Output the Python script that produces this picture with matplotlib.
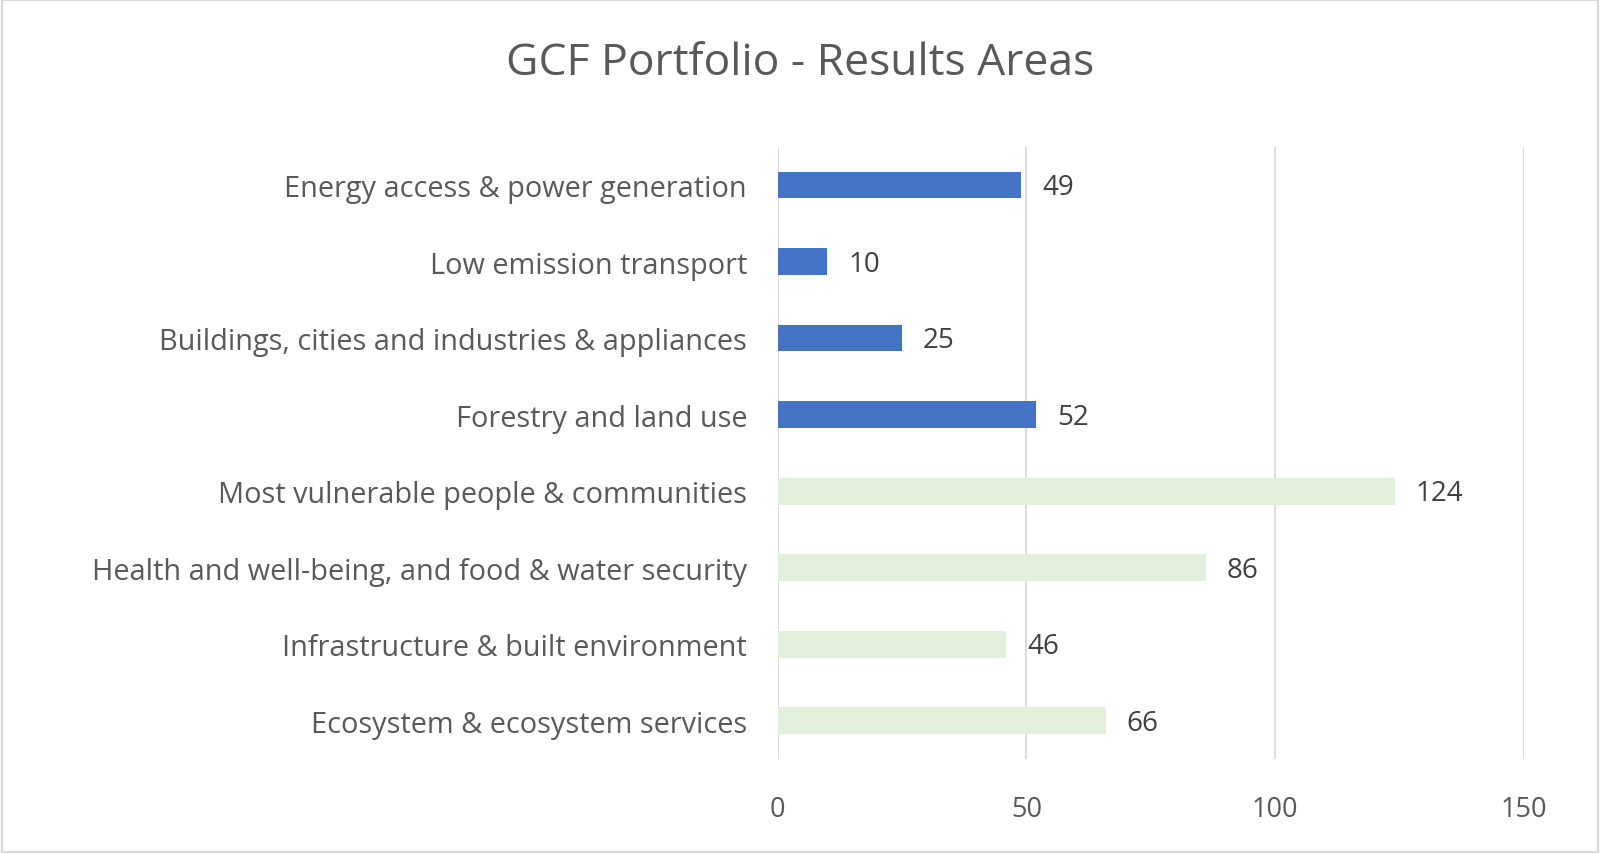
import matplotlib
matplotlib.use("Agg")
import matplotlib.pyplot as plt
from matplotlib.patches import Rectangle

categories = [
    "Energy access & power generation",
    "Low emission transport",
    "Buildings, cities and industries & appliances",
    "Forestry and land use",
    "Most vulnerable people & communities",
    "Health and well-being, and food & water security",
    "Infrastructure & built environment",
    "Ecosystem & ecosystem services",
]
values = [49, 10, 25, 52, 124, 86, 46, 66]
groups = ["mitigation"] * 4 + ["adaptation"] * 4
group_colors = {"mitigation": "#4472C4", "adaptation": "#E2EFDA"}
xticks = [0, 50, 100, 150]
title = "GCF Portfolio - Results Areas"

plt.rcParams['font.family'] = ['Open Sans', 'DejaVu Sans']

fig = plt.figure(figsize=(16, 8.54), dpi=100)
ax = fig.add_axes([0.486, 0.11, 0.9525 - 0.486, 0.717])

y = list(range(len(categories)))
colors = [group_colors[g] for g in groups]
ax.barh(y, values, height=0.35, color=colors, zorder=3)
ax.set_ylim(len(categories) - 0.5, -0.5)
ax.set_xlim(0, 150)
ax.set_xticks(xticks)
ax.set_xticklabels([str(t) for t in xticks])
ax.set_yticks(y)
ax.set_yticklabels(categories)
ax.tick_params(axis='x', length=0, labelsize=19.5, colors="#595959", pad=26)
ax.tick_params(axis='y', length=0, labelsize=20.8, colors="#595959", pad=22)
ax.grid(axis='x', color="#D9D9D9", linewidth=1.3, zorder=0)
for s in ax.spines.values():
    s.set_visible(False)

for yi, v in zip(y, values):
    ax.annotate(str(v), (v, yi), xytext=(15, -1.5), textcoords='offset points',
                va='center', ha='left', fontsize=20, color="#404040")

fig.text(0.5, 0.925, title, ha='center', va='center', fontsize=32, color="#595959")
fig.patches.append(Rectangle((0.001, 0.001), 0.998, 0.998, transform=fig.transFigure,
                             fill=False, edgecolor="#D9D9D9", linewidth=1.5))

fig.savefig("out.png", dpi=100)
